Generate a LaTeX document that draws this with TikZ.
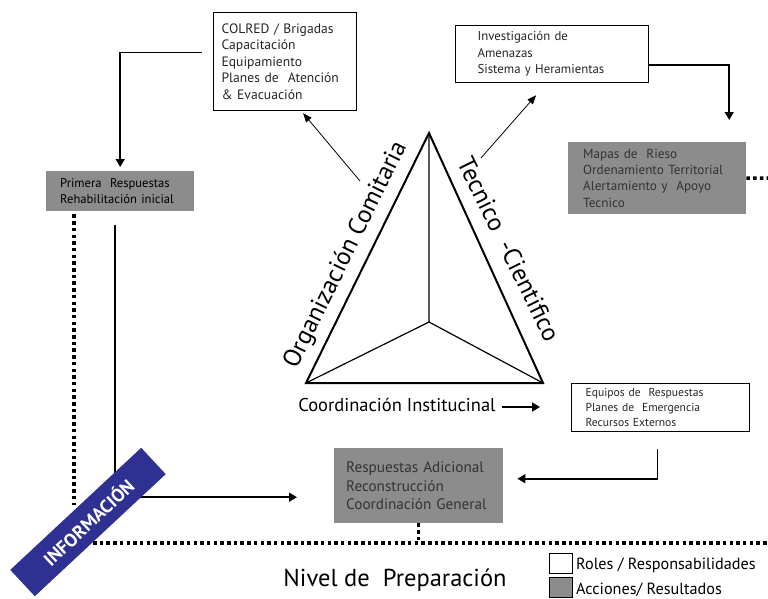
\documentclass[tikz,border=0pt]{standalone}
\usepackage{fontspec}
\setmainfont{PT Sans}
\usetikzlibrary{arrows.meta}
\definecolor{infoblue}{RGB}{46,49,146}
\begin{document}
\begin{tikzpicture}[x=1pt,y=-1pt,
            rolebox/.style={draw,line width=1.2pt,fill=white,align=left,anchor=north west,text=black!85},
            actbox/.style={fill=black!45,align=left,anchor=north west,text=black!80},
            dots/.style={line width=3.5pt,dash pattern=on 3.5pt off 3.2pt},
            thickarr/.style={line width=1.6pt,-{Triangle[length=8pt,width=9pt]}},
            thinarr/.style={line width=0.8pt,-{Triangle[length=9pt,width=7pt]}}]
            \useasboundingbox (0,0) rectangle (768,598);
            % <<< cajas
            \node[rolebox,inner xsep=8pt,text width=127pt,minimum height=98pt,
                font=\fontsize{13.6}{16.5}\selectfont] (colred) at (213,12)
                {COLRED / Brigadas\\Capacitación\\Equipamiento\\Planes de\ \ Atención\\\& Evacuación};
            \node[rolebox,inner xsep=22pt,text width=149pt,minimum height=57pt,
                font=\fontsize{12.8}{16.5}\selectfont] (inv) at (455,25)
                {Investigación de\\Amenazas\\Sistema y Heramientas};
            \node[actbox,inner xsep=14pt,text width=120pt,minimum height=40pt,text=black,
                font=\fontsize{12.6}{16}\selectfont] (prim) at (46,171)
                {Primera\ \ Respuestas\\Rehabilitación inicial};
            \node[actbox,inner xsep=15pt,text width=148pt,minimum height=72pt,
                font=\fontsize{13.2}{16.3}\selectfont] (map) at (568,142)
                {Mapas de\ \ Rieso\\Ordenamiento Territorial\\Alertamiento y\ \ Apoyo\\Tecnico};
            \node[rolebox,inner xsep=14pt,text width=150pt,minimum height=48pt,
                font=\fontsize{11.6}{15}\selectfont] (equ) at (571,383)
                {Equipos de\ \ Respuestas\\Planes de\ \ Emergencia\\Recursos Externos};
            \node[actbox,inner xsep=12pt,text width=145pt,minimum height=75pt,
                font=\fontsize{15.2}{18.5}\selectfont] (resp) at (334,448)
                {Respuestas Adicional\\Reconstrucción\\Coordinación General};
            % <<< triangulo
            \coordinate (top) at (429,133);
            \coordinate (bl) at (306,383);
            \coordinate (br) at (543,383);
            \coordinate (mid) at (429,322);
            \draw[line width=2pt] (top)--(bl)--(br)--cycle;
            \draw[line width=1.2pt] (top)--(mid) (bl)--(mid)--(br);
            \path
            (346,255) node[rotate=63.8,font=\fontsize{25}{25}\selectfont] (org) {Organización Comitaria}
            (509,249) node[rotate=-63.8,font=\fontsize{25}{25}\selectfont] (tec) {Tecnico\ \ -Cientifico}
            (397,405) node[font=\fontsize{18.5}{18.5}\selectfont] (coord) {Coordinación Institucinal}
            (395,580) node[font=\fontsize{24.5}{24.5}\selectfont] (nivel) {Nivel de\ \ Preparación};
            \coordinate (orgend) at (360,181);
            \coordinate (tecend) at (481,158);
            \coordinate (coordend) at (540,407);
            \coordinate (mapend) at (768,178);
            \coordinate (bottomL) at (93,543);
            \coordinate (bottomR) at (768,543);
            \coordinate (leftend) at (74,505);
            % <<< lineas punteadas
            \draw[dots] ([shift={(28,3)}]prim.south west)--(leftend);
            \draw[dots] (bottomL)--(bottomR);
            \draw[dots] (resp.south)--+(0,20);
            \draw[dots] (map.east)--(mapend);
            % <<< flechas
            \begin{scope}[thickarr]
                \draw ([shift={(-11,-9)}]colred.west) -| ([shift={(0,-4)}]prim.north);
                \draw ([shift={(0,11)}]inv.east) -| ([shift={(72,-22)}]map.north);
                \draw ([shift={(-3,17)}]equ.south) |- ([shift={(14,-7)}]resp.east);
                \draw ([shift={(-5,14)}]prim.south) |- ([shift={(-37,11.5)}]resp.west);
                \draw ([shift={(3,2)}]coord.east) -- (coordend);
            \end{scope}
            \begin{scope}[thinarr]
                \draw (orgend) -- ([shift={(18,2)}]colred.south);
                \draw (tecend) -- ([shift={(-16,12)}]inv.south);
            \end{scope}
            % <<< banda
            \node[fill=infoblue,text=white,rotate=43,minimum width=179pt,minimum height=36pt,
                font=\bfseries\fontsize{18.5}{18.5}\selectfont] (info) at (88,522) {INFORMACIÓN};
            % <<< leyenda
            \node[draw,line width=1pt,fill=white,minimum width=23pt,minimum height=20pt] (legw) at (560.5,563) {};
            \node[draw,line width=1pt,fill=black!45,minimum width=23pt,minimum height=20pt] (legg) at (560.5,587.5) {};
            \node[anchor=west,inner sep=0pt,font=\fontsize{16.2}{16.2}\selectfont] (legwt) at (576,565) {Roles / Responsabilidades};
            \node[anchor=west,inner sep=0pt,font=\fontsize{16.2}{16.2}\selectfont] (leggt) at (576,590) {Acciones/ Resultados};
        \end{tikzpicture}
\end{document}
